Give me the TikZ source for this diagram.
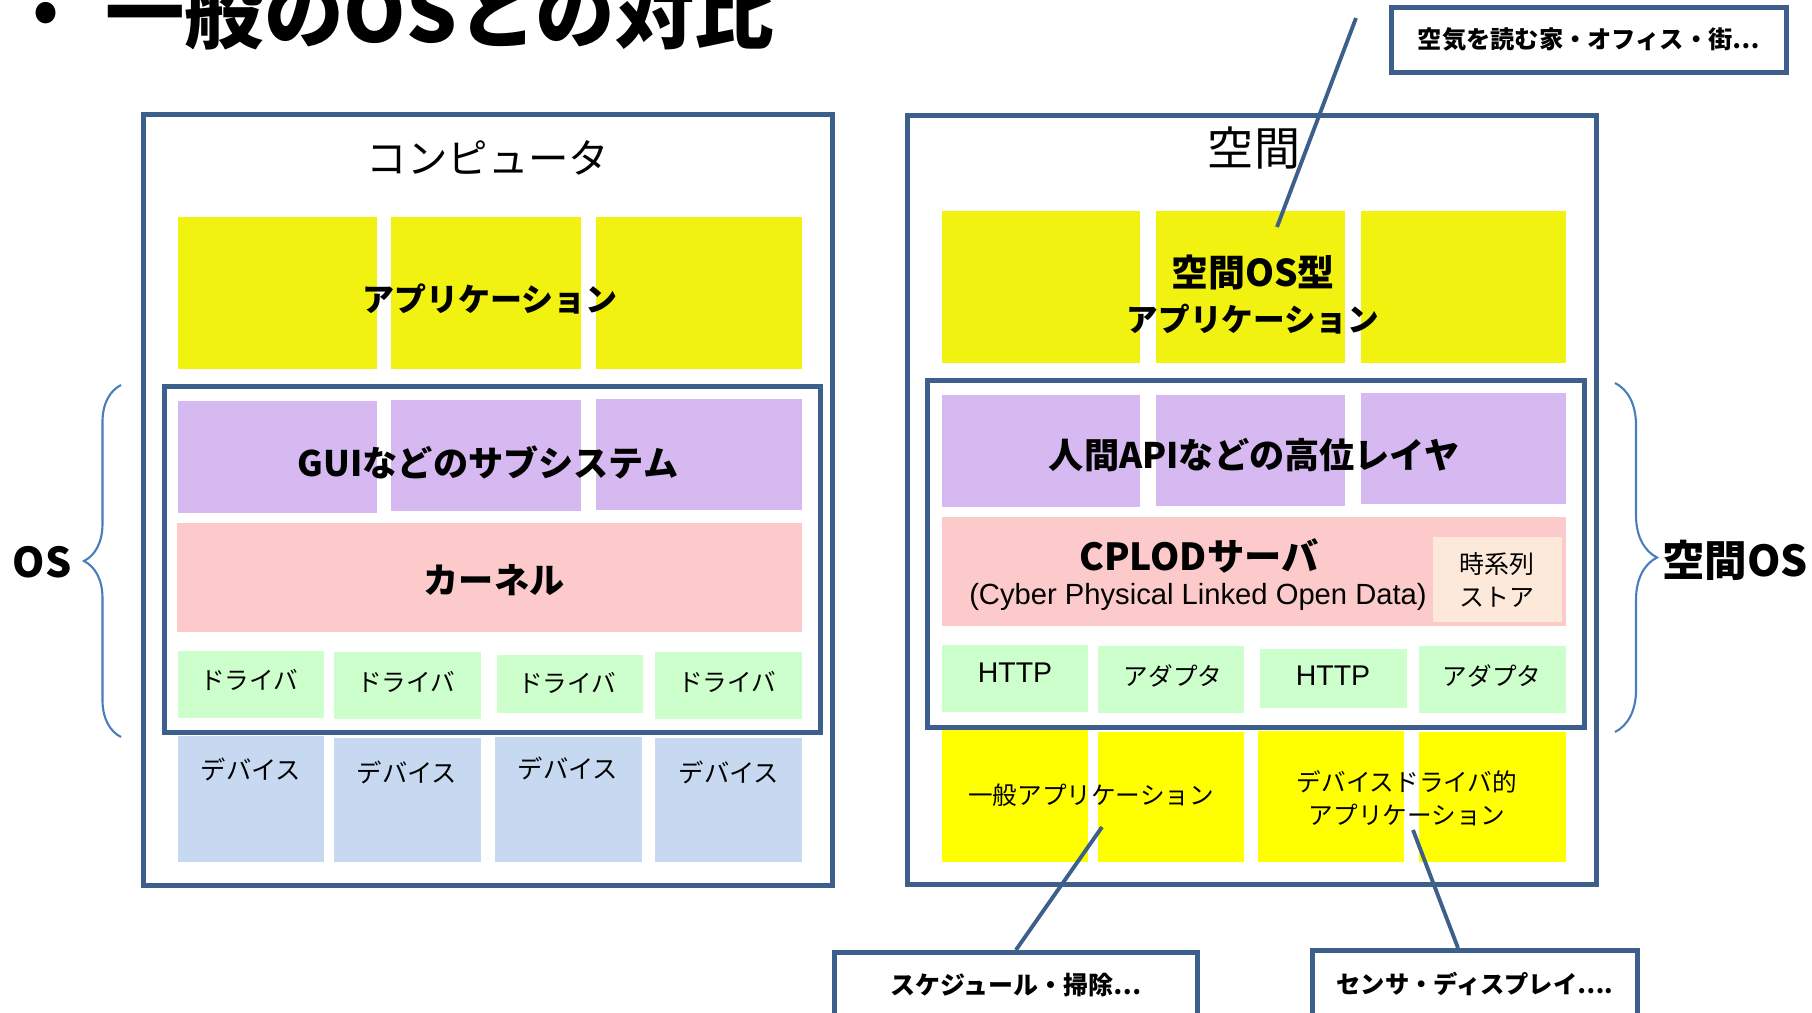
\documentclass[tikz,border=0pt]{standalone}
\usepackage{fontspec}
\setmainfont{Noto Sans CJK JP}
\newfontfamily\latinfont{Liberation Sans}
\usepackage{tikz}
\usepackage{xcolor}
\usetikzlibrary{decorations.pathreplacing}
\definecolor{frameblue}{RGB}{60,95,140}
\definecolor{braceblue}{RGB}{74,126,187}
\definecolor{appyellow}{RGB}{242,242,16}
\definecolor{genyellow}{RGB}{255,255,0}
\definecolor{subpurple}{RGB}{213,185,240}
\definecolor{kernelpink}{RGB}{252,202,202}
\definecolor{storepeach}{RGB}{253,233,217}
\definecolor{drivergreen}{RGB}{204,255,204}
\definecolor{deviceblue}{RGB}{198,217,241}
\tikzset{
    frame-box/.style = {draw=frameblue, line width=1.3pt, rectangle, inner sep=0pt, anchor=north west},
    layer-block/.style = {rectangle, inner sep=0pt, outer sep=0pt, anchor=north west},
    layer-label/.style = {font=\bfseries\fontsize{10}{12}\selectfont, align=center},
    small-label/.style = {font=\fontsize{7}{9.4}\selectfont, align=center},
    callout-box/.style = {draw=frameblue, line width=1.3pt, fill=white, rectangle, inner sep=0pt, anchor=north west, font=\bfseries\fontsize{6.9}{8}\selectfont},
    callout-line/.style = {draw=frameblue, line width=1.1pt},
    os-brace/.style = {draw=braceblue, line width=0.6pt, decorate},
}

\begin{document}
\begin{tikzpicture}[x=0.01cm, y=-0.01cm]
\useasboundingbox (0,0) rectangle (1812,1012);
\clip (0,0) rectangle (1812,1012);

% title
\node[font=\fontsize{22.6}{26}\selectfont, anchor=base] (bullet) at (46,36) {•};
\node[font=\bfseries\fontsize{22.6}{26}\selectfont, anchor=base west] (heading) at (93,42) {一般のOSとの対比};

% computer
\node[frame-box, minimum width=6.89cm, minimum height=7.71cm] (computer) at (141,112) {};
\node[font=\fontsize{11.5}{14}\selectfont] (computer-title) at (488,158) {コンピュータ};
\node[layer-block, fill=appyellow, minimum width=1.99cm, minimum height=1.52cm] (app-l1) at (178,217) {};
\node[layer-block, fill=appyellow, minimum width=1.90cm, minimum height=1.52cm] (app-l2) at (391,217) {};
\node[layer-block, fill=appyellow, minimum width=2.06cm, minimum height=1.52cm] (app-l3) at (596,217) {};
\node[layer-label, font=\bfseries\fontsize{9.1}{11}\selectfont] (app-l-text) at (490,299) {アプリケーション};
\node[frame-box, minimum width=6.56cm, minimum height=3.46cm] (os-l) at (162,384) {};
\node[layer-block, fill=subpurple, minimum width=1.99cm, minimum height=1.12cm] (sub-l1) at (178,401) {};
\node[layer-block, fill=subpurple, minimum width=1.90cm, minimum height=1.11cm] (sub-l2) at (391,400) {};
\node[layer-block, fill=subpurple, minimum width=2.06cm, minimum height=1.11cm] (sub-l3) at (596,399) {};
\node[layer-label] (sub-l-text) at (488,462) {GUIなどのサブシステム};
\node[layer-block, fill=kernelpink, minimum width=6.25cm, minimum height=1.09cm] (kernel) at (177,523) {};
\node[layer-label] (kernel-text) at (494,580) {カーネル};
\node[layer-block, fill=drivergreen, minimum width=1.46cm, minimum height=0.67cm] (drv-l1) at (178,651) {};
\node[layer-block, fill=drivergreen, minimum width=1.47cm, minimum height=0.67cm] (drv-l2) at (334,652) {};
\node[layer-block, fill=drivergreen, minimum width=1.46cm, minimum height=0.58cm] (drv-l3) at (497,655) {};
\node[layer-block, fill=drivergreen, minimum width=1.47cm, minimum height=0.67cm] (drv-l4) at (655,652) {};
\node[small-label] (drv-l1-text) at (249,680) {ドライバ};
\node[small-label] (drv-l2-text) at (406,682) {ドライバ};
\node[small-label] (drv-l3-text) at (567,683) {ドライバ};
\node[small-label] (drv-l4-text) at (727,682) {ドライバ};
\node[layer-block, fill=deviceblue, minimum width=1.46cm, minimum height=1.26cm] (dev-l1) at (178,736) {};
\node[layer-block, fill=deviceblue, minimum width=1.47cm, minimum height=1.24cm] (dev-l2) at (334,738) {};
\node[layer-block, fill=deviceblue, minimum width=1.47cm, minimum height=1.25cm] (dev-l3) at (495,737) {};
\node[layer-block, fill=deviceblue, minimum width=1.47cm, minimum height=1.24cm] (dev-l4) at (655,738) {};
\node[small-label, font=\fontsize{7.2}{9}\selectfont] (dev-l1-text) at (251,769) {デバイス};
\node[small-label, font=\fontsize{7.2}{9}\selectfont] (dev-l2-text) at (407,772) {デバイス};
\node[small-label, font=\fontsize{7.2}{9}\selectfont] (dev-l3-text) at (568,768) {デバイス};
\node[small-label, font=\fontsize{7.2}{9}\selectfont] (dev-l4-text) at (729,772) {デバイス};

% space
\node[frame-box, minimum width=6.89cm, minimum height=7.69cm] (space) at (905,113) {};
\node[font=\fontsize{13.1}{15}\selectfont] (space-title) at (1254,148) {空間};
\node[layer-block, fill=appyellow, minimum width=1.98cm, minimum height=1.52cm] (app-r1) at (942,211) {};
\node[layer-block, fill=appyellow, minimum width=1.89cm, minimum height=1.52cm] (app-r2) at (1156,211) {};
\node[layer-block, fill=appyellow, minimum width=2.05cm, minimum height=1.52cm] (app-r3) at (1361,211) {};
\node[layer-label, font=\bfseries\fontsize{9}{12.8}\selectfont] (app-r-text) at (1253,295) {\fontsize{10.5}{12.8}\selectfont 空間OS型\\\fontsize{9}{12.8}\selectfont アプリケーション};
\node[frame-box, minimum width=6.57cm, minimum height=3.47cm] (os-r) at (925,378) {};
\node[layer-block, fill=subpurple, minimum width=1.98cm, minimum height=1.12cm] (api-r1) at (942,395) {};
\node[layer-block, fill=subpurple, minimum width=1.89cm, minimum height=1.11cm] (api-r2) at (1156,395) {};
\node[layer-block, fill=subpurple, minimum width=2.05cm, minimum height=1.11cm] (api-r3) at (1361,393) {};
\node[layer-label] (api-r-text) at (1254,455) {人間APIなどの高位レイヤ};
\node[layer-block, fill=kernelpink, minimum width=6.24cm, minimum height=1.09cm] (cplod) at (942,517) {};
\node[layer-block, fill=storepeach, minimum width=1.29cm, minimum height=0.85cm] (store) at (1433,537) {};
\node[layer-label, font=\bfseries\fontsize{10.6}{12}\selectfont] (cplod-text) at (1199,556) {CPLODサーバ};
\node[font=\latinfont\fontsize{8.3}{10}\selectfont] (cplod-sub) at (1198,597) {(Cyber Physical Linked Open Data)};
\node[small-label, font=\fontsize{7.1}{9.4}\selectfont] (store-text) at (1497,580) {時系列\\ストア};
\node[layer-block, fill=drivergreen, minimum width=1.46cm, minimum height=0.67cm] (http-r1) at (942,645) {};
\node[layer-block, fill=drivergreen, minimum width=1.46cm, minimum height=0.67cm] (adapter-r1) at (1098,646) {};
\node[layer-block, fill=drivergreen, minimum width=1.47cm, minimum height=0.59cm] (http-r2) at (1260,649) {};
\node[layer-block, fill=drivergreen, minimum width=1.47cm, minimum height=0.67cm] (adapter-r2) at (1419,646) {};
\node[font=\latinfont\fontsize{8.1}{10}\selectfont] (http-r1-text) at (1015,673) {HTTP};
\node[small-label] (adapter-r1-text) at (1173,676) {アダプタ};
\node[font=\latinfont\fontsize{8.1}{10}\selectfont] (http-r2-text) at (1333,676) {HTTP};
\node[small-label] (adapter-r2-text) at (1492,676) {アダプタ};
\node[layer-block, fill=genyellow, minimum width=1.46cm, minimum height=1.32cm] (gapp-r1) at (942,730) {};
\node[layer-block, fill=genyellow, minimum width=1.46cm, minimum height=1.30cm] (gapp-r2) at (1098,732) {};
\node[layer-block, fill=genyellow, minimum width=1.46cm, minimum height=1.31cm] (dapp-r1) at (1258,731) {};
\node[layer-block, fill=genyellow, minimum width=1.47cm, minimum height=1.30cm] (dapp-r2) at (1419,732) {};
\node[small-label] (gapp-text) at (1091,795) {一般アプリケーション};
\node[small-label] (dapp-text) at (1407,798) {デバイスドライバ的\\アプリケーション};

% braces
\draw[os-brace, decoration={brace, amplitude=0.37cm}] (121,737) -- (121,385);
\node[font=\bfseries\fontsize{11.7}{14}\selectfont] (os-label) at (42,562) {OS};
\draw[os-brace, decoration={brace, amplitude=0.42cm}] (1615,383) -- (1615,732);
\node[font=\bfseries\fontsize{12.1}{14}\selectfont] (space-os-label) at (1735,560) {空間OS};

% callouts
\node[callout-box, minimum width=3.95cm, minimum height=0.65cm] (air-note) at (1389,5) {空気を読む家・オフィス・街…};
\node[callout-box, minimum width=3.63cm, minimum height=0.66cm, font=\bfseries\fontsize{7.1}{8}\selectfont] (schedule-note) at (832,950) {スケジュール・掃除…};
\node[callout-box, minimum width=3.25cm, minimum height=0.68cm] (sensor-note) at (1310,948) {センサ・ディスプレイ….};
\coordinate (air-end) at (1356,18);
\coordinate (air-app) at (1277,227);
\draw[callout-line] (air-end) -- (air-app);
\coordinate (gen-app) at (1102,827);
\draw[callout-line] (gen-app) -- (schedule-note.north);
\coordinate (dev-app) at (1413,830);
\coordinate (sensor-top) at (1458,948);
\draw[callout-line] (dev-app) -- (sensor-top);
\end{tikzpicture}
\end{document}
